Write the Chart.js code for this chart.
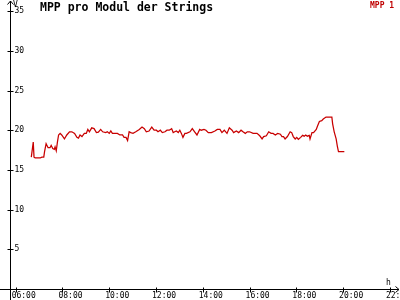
<!DOCTYPE html>
<html>
<head>
  <title>MPP pro Modul der Strings</title>
  <meta charset="UTF-8">
  <script src="https://cdn.jsdelivr.net/npm/chart.js"></script>
  <style>
    body { margin: 0; background-color: #fff; }
    #wrap { width: 400px; height: 300px; }
  </style>
</head>
<body>

  <div id="wrap"><canvas id="grafik" width="400" height="300"></canvas></div>

  <script>
    // Uhrzeit der Messpunkte
    const zeiten = [
      '06:40', '06:45', '06:47', '06:50', '07:03', '07:07', '07:12', '07:14', '07:18', '07:23',
      '07:28', '07:31', '07:35', '07:39', '07:41', '07:44', '07:47', '07:50', '07:54', '07:58',
      '08:05', '08:11', '08:18', '08:24', '08:31', '08:37', '08:41', '08:45', '08:50', '08:56',
      '09:01', '09:05', '09:09', '09:15', '09:21', '09:27', '09:32', '09:38', '09:43', '09:51',
      '09:55', '10:00', '10:04', '10:08', '10:13', '10:21', '10:27', '10:34', '10:38', '10:43',
      '10:47', '10:51', '10:55', '11:01', '11:08', '11:17', '11:24', '11:30', '11:35', '11:42',
      '11:49', '11:55', '12:01', '12:05', '12:11', '12:16', '12:23', '12:28', '12:34', '12:40',
      '12:44', '12:48', '12:52', '12:57', '13:01', '13:05', '13:09', '13:14', '13:18', '13:27',
      '13:33', '13:39', '13:45', '13:52', '13:56', '14:03', '14:08', '14:14', '14:22', '14:31',
      '14:37', '14:44', '14:49', '14:55', '15:02', '15:08', '15:15', '15:19', '15:26', '15:32',
      '15:38', '15:43', '15:49', '15:54', '16:00', '16:09', '16:19', '16:26', '16:32', '16:36',
      '16:43', '16:49', '16:55', '17:00', '17:06', '17:12', '17:19', '17:23', '17:27', '17:31',
      '17:37', '17:44', '17:48', '17:52', '17:57', '18:01', '18:05', '18:11', '18:16', '18:20',
      '18:24', '18:28', '18:33', '18:35', '18:40', '18:44', '18:51', '18:54', '18:59', '19:05',
      '19:09', '19:16', '19:31', '19:33', '19:37', '19:42', '19:45', '19:48', '20:03'
    ];

    // MPP 1 (V)
    const mpp1 = [
      16.6, 18.5, 16.6, 16.5, 16.5, 16.6, 16.6, 17.3, 18.3, 17.8,
      17.8, 18.1, 17.7, 17.6, 17.9, 17.4, 18.5, 19.4, 19.6, 19.4,
      18.9, 19.4, 19.8, 19.8, 19.6, 19.1, 19.0, 19.4, 19.2, 19.6,
      19.6, 20.1, 19.8, 20.3, 20.2, 19.7, 19.75, 20.1, 19.8, 19.7,
      19.8, 19.6, 19.9, 19.6, 19.6, 19.6, 19.4, 19.4, 19.1, 19.1,
      18.7, 19.8, 19.7, 19.6, 19.8, 20.1, 20.4, 20.2, 19.8, 19.9,
      20.4, 20.0, 20.0, 19.8, 20.0, 19.7, 19.8, 20.0, 20.0, 20.2,
      19.7, 19.8, 19.9, 19.7, 20.0, 19.6, 19.1, 19.6, 19.6, 19.8,
      20.2, 19.8, 19.4, 20.1, 20.0, 20.1, 20.0, 19.7, 19.7, 19.9,
      20.1, 20.1, 19.7, 20.0, 19.6, 20.3, 20.0, 19.7, 19.9, 19.7,
      20.0, 19.8, 19.6, 19.8, 19.8, 19.6, 19.6, 19.3, 18.9, 19.2,
      19.3, 19.8, 19.6, 19.6, 19.4, 19.6, 19.5, 19.2, 19.2, 18.9,
      19.2, 19.8, 19.7, 19.2, 18.9, 19.1, 18.85, 19.1, 19.35, 19.25,
      19.4, 19.25, 19.35, 18.9, 19.7, 19.7, 20.1, 20.5, 21.1, 21.2,
      21.4, 21.65, 21.65, 20.8, 19.8, 18.9, 18.0, 17.3, 17.3
    ];

    // Achsenbeschriftung
    const xTickStunden = [6, 8, 10, 12, 14, 16, 18, 20, 22];
    const xTickLabels = ['06:00', '08:00', '10:00', '12:00', '14:00', '16:00', '18:00', '20:00', '22:00'];
    const yTickWerte = [5, 10, 15, 20, 25, 30, 35];

    const inStunden = t => {
      const [h, m] = t.split(':').map(Number);
      return h + m / 60;
    };

    const schrift = { family: 'DejaVu Sans Mono', size: 8 };

    // Achsen mit Pfeilen, Striche, Titel und Legende
    const achsen = {
      id: 'achsen',
      afterDraw(chart) {
        const { ctx, chartArea: a, scales: { x, y } } = chart;
        const y0 = Math.round(y.getPixelForValue(0)) + 0.5;
        const x0 = Math.round(a.left) + 0.5;
        ctx.save();
        ctx.strokeStyle = '#000';
        ctx.lineWidth = 1;
        ctx.beginPath();
        ctx.moveTo(0, y0); ctx.lineTo(399, y0);
        ctx.moveTo(x0, 300); ctx.lineTo(x0, 1);
        ctx.moveTo(395.5, y0 - 3); ctx.lineTo(399, y0); ctx.lineTo(395.5, y0 + 3);
        ctx.moveTo(x0 - 3, 4.5); ctx.lineTo(x0, 1); ctx.lineTo(x0 + 3, 4.5);
        x.ticks.forEach(t => {
          const px = Math.round(x.getPixelForValue(t.value)) + 0.5;
          ctx.moveTo(px, y0 - 2); ctx.lineTo(px, y0 + 3);
        });
        y.ticks.forEach(t => {
          const py = Math.round(y.getPixelForValue(t.value)) + 0.5;
          ctx.moveTo(x0 - 3, py); ctx.lineTo(x0 + 3, py);
        });
        ctx.stroke();

        ctx.fillStyle = '#000';
        ctx.textBaseline = 'alphabetic';
        ctx.textAlign = 'left';
        ctx.font = 'bold 11.5px "DejaVu Sans Mono"';
        ctx.fillText('MPP pro Modul der Strings', 40, 11);
        ctx.font = '8px "DejaVu Sans Mono"';
        ctx.fillText('V', 13, 7);
        ctx.fillText('h', 386, 285);
        ctx.fillStyle = '#c00000';
        ctx.font = 'bold 8px "DejaVu Sans Mono"';
        ctx.fillText(chart.data.datasets[0].label, 370, 8);
        ctx.restore();
      }
    };

    const ctx = document.getElementById('grafik').getContext('2d');
    const chart = new Chart(ctx, {
      type: 'line',
      data: {
        datasets: [{
          label: 'MPP 1',
          data: zeiten.map((t, i) => ({ x: inStunden(t), y: mpp1[i] })),
          borderColor: '#c80000',
          borderWidth: 1.25,
          pointRadius: 0,
          tension: 0,
          fill: false
        }]
      },
      options: {
        responsive: false,
        animation: false,
        layout: { padding: { left: 10, right: 0, top: 0, bottom: 0 } },
        plugins: {
          legend: { display: false },
          title: { display: false },
          tooltip: { enabled: false }
        },
        scales: {
          x: {
            type: 'linear',
            position: 'bottom',
            min: 5.756,
            max: 22.43,
            grid: { display: false, drawTicks: false },
            border: { display: false },
            ticks: {
              font: schrift,
              color: '#000',
              padding: 2,
              labelOffset: 8,
              maxRotation: 0,
              autoSkip: false,
              callback: v => xTickLabels[xTickStunden.indexOf(v)]
            },
            afterBuildTicks: s => { s.ticks = xTickStunden.map(v => ({ value: v })); },
            afterFit: s => { s.height = 11; s.paddingLeft = 0; s.paddingRight = 0; }
          },
          y: {
            position: 'left',
            min: 0,
            max: 36.4,
            grid: { display: false, drawTicks: false },
            border: { display: false },
            ticks: {
              font: schrift,
              color: '#000',
              mirror: true,
              padding: 4.5
            },
            afterBuildTicks: s => { s.ticks = yTickWerte.map(v => ({ value: v })); },
            afterFit: s => { s.width = 0; s.paddingTop = 0; s.paddingBottom = 0; }
          }
        }
      },
      plugins: [achsen]
    });
  </script>

</body>
</html>
